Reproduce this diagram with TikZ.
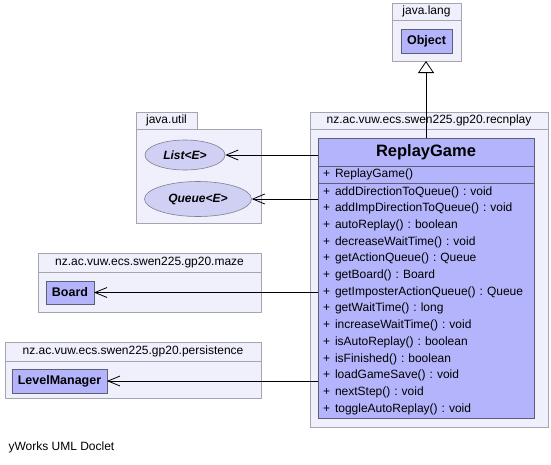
\documentclass[tikz,border=0pt]{standalone}
\usepackage{fontspec}
\setmainfont{Liberation Sans}
\usepackage{tikz}
\usetikzlibrary{arrows.meta}
\usetikzlibrary{shapes.geometric}
\usetikzlibrary{positioning}
\frenchspacing

\definecolor{pkgfill}{RGB}{240,240,252}
\definecolor{pkgline}{RGB}{165,165,178}
\definecolor{classfill}{RGB}{180,180,252}
\definecolor{classline}{RGB}{95,95,115}
\definecolor{ifacefill}{RGB}{208,208,244}
\newcommand{\umlpub}{+\hspace{5pt}}

\begin{document}
\begin{tikzpicture}[x=1pt,y=-1pt,
      font=\fontsize{12}{14}\selectfont,
      pkgtab/.style={draw=pkgline, fill=pkgfill, line width=0.8pt,
        anchor=north west, inner sep=0pt, outer sep=0pt},
      pkgbody/.style={pkgtab},
      umlclass/.style={draw=classline, fill=classfill, line width=0.8pt,
        inner sep=0pt, outer sep=0pt, font=\fontsize{12.5}{14}\selectfont\bfseries},
      umliface/.style={ellipse, draw=classline!80, fill=ifacefill, line width=0.6pt,
        inner sep=0pt, font=\fontsize{12}{14}\selectfont\bfseries\itshape},
      part/.style={draw=classline, fill=classfill, line width=0.8pt,
        anchor=north west, inner sep=0pt, outer sep=0pt,
        minimum width=216pt},
      navigates/.style={draw, line width=0.8pt,
        -{Straight Barb[length=12pt,width=10pt,line width=0.8pt]}},
      extends/.style={draw, line width=0.8pt,
        -{Triangle[length=12pt,width=16pt,fill=white,line width=0.8pt]}}]

    \useasboundingbox (0,0) rectangle (551,464);

    % packages
    \node[pkgtab, minimum width=69pt, minimum height=17pt]
      (langTab) at (392,3) {java.lang};
    \node[pkgbody, minimum width=69pt, minimum height=41pt]
      (langBody) at (langTab.south west) {};
    \node[pkgtab, minimum width=61pt, minimum height=17pt]
      (utilTab) at (136,112) {java.util};
    \node[pkgbody, minimum width=125pt, minimum height=94pt]
      (utilBody) at (utilTab.south west) {};
    \node[pkgtab, minimum width=238pt, minimum height=17pt]
      (recnplayTab) at (310,112) {nz.ac.vuw.ecs.swen225.gp20.recnplay};
    \node[pkgbody, minimum width=238pt, minimum height=298pt]
      (recnplayBody) at (recnplayTab.south west) {};
    \node[pkgtab, minimum width=223pt, minimum height=19pt]
      (mazeTab) at (38,253) {nz.ac.vuw.ecs.swen225.gp20.maze};
    \node[pkgbody, minimum width=223pt, minimum height=40pt]
      (mazeBody) at (mazeTab.south west) {};
    \node[pkgtab, minimum width=256pt, minimum height=19pt]
      (persistenceTab) at (5,342) {nz.ac.vuw.ecs.swen225.gp20.persistence};
    \node[pkgbody, minimum width=256pt, minimum height=37pt]
      (persistenceBody) at (persistenceTab.south west) {};

    % classes and interfaces
    \node[umlclass, minimum width=51pt, minimum height=24pt]
      (Object) at (426.5,41) {Object};
    \node[umliface, minimum width=80pt, minimum height=30pt]
      (List) at (185,155) {List<E>};
    \node[umliface, minimum width=107pt, minimum height=35pt]
      (Queue) at (198,199) {Queue<E>};
    \node[umlclass, minimum width=48pt, minimum height=23pt]
      (Board) at (70,292.5) {Board};
    \node[umlclass, minimum width=95pt, minimum height=24pt]
      (LevelManager) at (59.5,381) {LevelManager};

    % ReplayGame
    \node[part, minimum height=28pt, font=\fontsize{16.5}{18}\selectfont\bfseries]
      (ReplayGame) at (318,138) {ReplayGame};
    \node[part, minimum height=17pt, inner xsep=5pt, text width=206pt, align=left]
      (Ctor) at (ReplayGame.south west) {\umlpub ReplayGame()};
    \node[part, minimum height=235pt, inner xsep=5pt, inner ysep=3pt,
        text width=206pt, align=left, font=\fontsize{12}{16.7}\selectfont]
      (Methods) at (Ctor.south west) {\umlpub addDirectionToQueue() : void\\
        \umlpub addImpDirectionToQueue() : void\\
        \umlpub autoReplay() : boolean\\
        \umlpub decreaseWaitTime() : void\\
        \umlpub getActionQueue() : Queue\\
        \umlpub getBoard() : Board\\
        \umlpub getImposterActionQueue() : Queue\\
        \umlpub getWaitTime() : long\\
        \umlpub increaseWaitTime() : void\\
        \umlpub isAutoReplay() : boolean\\
        \umlpub isFinished() : boolean\\
        \umlpub loadGameSave() : void\\
        \umlpub nextStep() : void\\
        \umlpub toggleAutoReplay() : void};

    \node[anchor=west]
      (Doclet) at (5,447) {yWorks UML Doclet};

    \path[extends]
      (ReplayGame.north) -- (ReplayGame.north |- langBody.south);
    \path[navigates]
      (ReplayGame.west |- List) -- (List.east);
    \path[navigates]
      (Ctor.west |- Queue) -- (Queue.east);
    \path[navigates]
      (Methods.west |- Board) -- (Board.east);
    \path[navigates]
      (Methods.west |- LevelManager) -- (LevelManager.east);

  \end{tikzpicture}
\end{document}
